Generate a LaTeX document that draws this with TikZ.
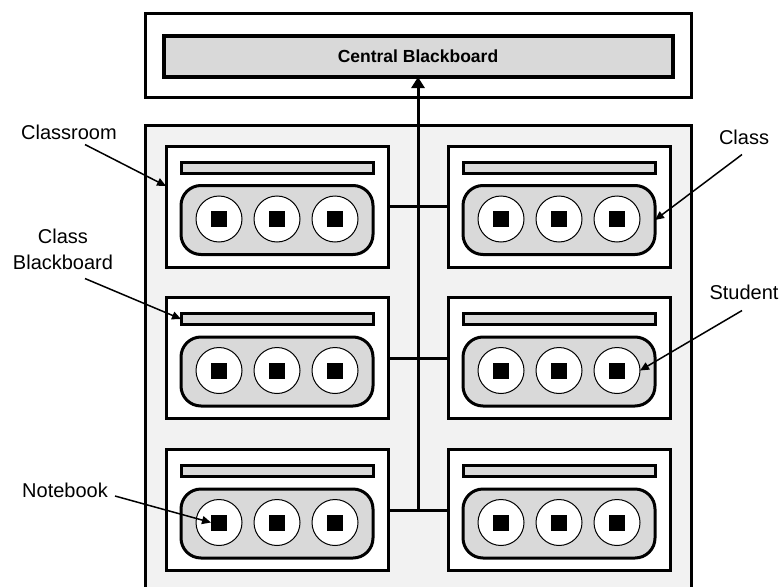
\documentclass[tikz,border=0pt]{standalone}
\usepackage{fontspec}
\setmainfont{Liberation Sans}
\usetikzlibrary{arrows.meta}
\definecolor{bggray}{HTML}{F2F2F2}
\definecolor{midgray}{HTML}{D9D9D9}
\begin{document}
\begin{tikzpicture}[x=1pt,y=-1pt,
  box/.style={draw, line width=3pt, inner sep=0pt, outer sep=0pt},
  roombox/.style={box, fill=white, minimum width=222pt, minimum height=121pt},
  barbox/.style={box, fill=midgray, minimum width=192pt, minimum height=11pt},
  classbox/.style={box, fill=midgray, rounded corners=20pt, minimum width=192pt, minimum height=69pt},
  studentc/.style={circle, draw, line width=1pt, fill=white, minimum size=46pt, inner sep=0pt, outer sep=0pt},
  notebk/.style={rectangle, fill=black, minimum size=16pt, inner sep=0pt, outer sep=0pt},
  lbl/.style={font=\fontsize{20}{26}\selectfont, inner sep=0pt, align=center},
  lblarrow/.style={-{Triangle[length=9pt,width=8pt]}, line width=1.5pt},
  wire/.style={line width=3pt}
]
\useasboundingbox (0,0) rectangle (781,586);
\clip (0,0) rectangle (781,586);
% top box with central blackboard
\node[box, fill=white, minimum width=546pt, minimum height=83pt] (topbox) at (418,55.5) {};
\node[box, line width=4pt, fill=midgray, minimum width=509pt, minimum height=41pt,
      font=\bfseries\fontsize{17.5}{20}\selectfont] (cbb) at (418,56.5) {Central Blackboard};
% school box
\node[box, fill=bggray, minimum width=546pt, minimum height=500pt, anchor=north] (school) at (418,125) {};
% classrooms
\foreach \r/\cy in {1/206.5,2/358,3/510}{
  \foreach \c/\cx in {1/277,2/559}{
    \node[roombox] (room-\r-\c) at (\cx,\cy) {};
    \node[barbox] (bb-\r-\c) at (\cx,\cy-39) {};
    \node[classbox] (cls-\r-\c) at (\cx,\cy+13.5) {};
    \foreach \k/\dx in {1/-58,2/0,3/58}{
      \node[studentc] (st-\r-\c-\k) at (\cx+\dx,\cy+12.5) {};
      \node[notebk] (nb-\r-\c-\k) at (\cx+\dx,\cy+12.5) {};
    }
  }
  \draw[wire] (room-\r-1.east) -- (room-\r-2.west);
}
% central link
\coordinate (j3) at (418,510);
\draw[wire, -{Triangle[length=11pt,width=13pt]}] (j3) -- (cbb.south);
% labels
\node[lbl] (lclassroom) at (69,132) {Classroom};
\node[lbl] (lclassbb) at (63,249) {Class\\Blackboard};
\node[lbl] (lnotebook) at (65,490) {Notebook};
\node[lbl] (lclass) at (744,137) {Class};
\node[lbl] (lstudent) at (744,292) {Student};
\draw[lblarrow] ([xshift=16pt,yshift=-5pt]lclassroom.south) -- ([yshift=20.5pt]room-1-1.west);
\draw[lblarrow] ([xshift=22pt,yshift=-9pt]lclassbb.south) -- (bb-2-1.west);
\draw[lblarrow] ([xshift=7pt,yshift=-6pt]lnotebook.east) -- (nb-3-1-1.west);
\draw[lblarrow] ([xshift=-2pt,yshift=-10pt]lclass.south) -- (cls-1-2.east);
\draw[lblarrow] ([xshift=-2pt,yshift=-11pt]lstudent.south) -- (st-2-2-3.east);
\end{tikzpicture}
\end{document}
